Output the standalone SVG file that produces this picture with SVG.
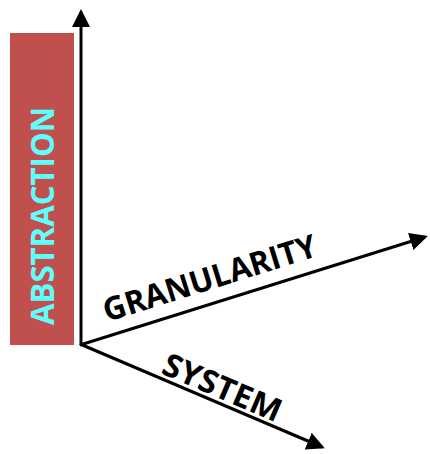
<svg xmlns="http://www.w3.org/2000/svg" width="430" height="454" viewBox="0 0 430 454">
<style>
.axis{stroke:#000;stroke-width:3;fill:none}
.lbl{font-family:"Open Sans","Liberation Sans",sans-serif;font-weight:bold;font-size:32px;fill:#000}
</style>
<defs>
<marker id="ah" markerWidth="6" markerHeight="6" refX="5" refY="3" orient="auto" markerUnits="strokeWidth">
<path d="M0,0 L6,3 L0,6 Z" fill="#000"/>
</marker>
</defs>
<g id="abstraction">
<rect x="10" y="33" width="64" height="312" fill="#C0504D"/>
<text class="lbl" transform="translate(54,325) rotate(-90)" style="fill:#5FFFFF;font-size:32px" textLength="218" lengthAdjust="spacingAndGlyphs">ABSTRACTION</text>
</g>
<g id="connectors">
<line class="axis" x1="81" y1="345" x2="81" y2="12" marker-end="url(#ah)"/>
<line class="axis" x1="80" y1="345" x2="425" y2="237" marker-end="url(#ah)"/>
<line class="axis" x1="80" y1="344" x2="322" y2="447" marker-end="url(#ah)"/>
</g>
<g id="granularity">
<text class="lbl" transform="translate(107,322) rotate(-17.4)" textLength="222" lengthAdjust="spacingAndGlyphs">GRANULARITY</text>
</g>
<g id="system">
<text class="lbl" transform="translate(160,373) rotate(23.2)" textLength="126" lengthAdjust="spacingAndGlyphs">SYSTEM</text>
</g>
</svg>
